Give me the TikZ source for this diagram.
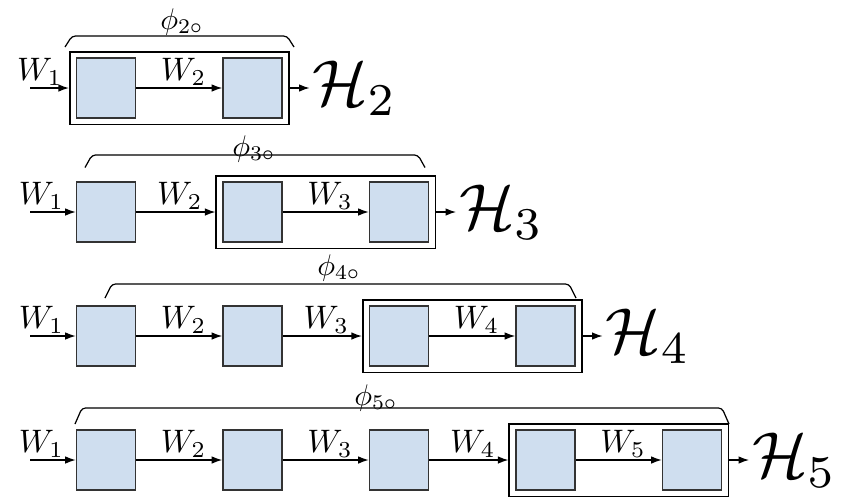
\documentclass[tikz,border=0pt]{standalone}
\usepackage{tikz}
\usetikzlibrary{arrows.meta,positioning,fit}

\definecolor{unitblue}{RGB}{207,222,239}

\tikzset{
  unit/.style={draw=black!80, line width=0.9pt, fill=unitblue,
    minimum width=1.18cm, minimum height=1.2cm, inner sep=0pt},
  frame/.style={draw, line width=0.9pt, inner xsep=0.12cm, inner ysep=0.11cm},
  flow/.style={-{Latex[length=2.1mm,width=1.5mm]}, line width=0.7pt},
  wlabel/.style={scale=1.85, inner sep=0.5pt},
  hlabel/.style={scale=3.7, inner sep=0.3pt},
  philabel/.style={scale=1.7, inner sep=0pt},
  cover/.style={line width=0.7pt, rounded corners=2pt},
}

\begin{document}
\begin{tikzpicture}
  \useasboundingbox (0,0) rectangle (16.92,-10.06);

  % One chain per depth, last two units framed
  \foreach \r in {1,...,4} {
    \pgfmathsetmacro\y{-1.76-2.48*(\r-1)}
    \pgfmathtruncatemacro\n{\r+1}
    \coordinate (in\r) at (0.6,\y);

    % units
    \foreach \c in {1,...,\n} {
      \node[unit] (u\r-\c) at ({2.12+2.93*(\c-1)},\y) {};
    }

    % frame
    \node[frame, fit=(u\r-\r)(u\r-\n)] (f\r) {};

    % weights between units
    \foreach \c in {1,...,\n} {
      \pgfmathtruncatemacro\p{\c-1}
      \ifnum\c=1 \def\src{in\r}\def\lpos{0.25}\else \def\src{u\r-\p}\def\lpos{0.55}\fi
      \ifnum\c=\r \def\dst{f\r}\else \def\dst{u\r-\c}\fi
      \draw[flow] (\src) -- node[wlabel, above, pos=\lpos] (w\r-\c) {$W_{\c}$} (\dst);
    }

    % output
    \node[hlabel, right=0.4cm of f\r] (h\r) {$\mathcal{H}_{\n}$};
    \draw[flow] (f\r) -- (h\r);
  }

  % Covers over the composed part
  \foreach \r/\a/\b/\yb/\d/\lx/\ly in {
      2/1.30/5.88/-0.72/0.22/3.64/-0.44,
      3/1.70/8.50/-3.10/0.25/5.08/-2.98,
      4/2.10/11.52/-5.68/0.28/6.78/-5.36,
      5/1.50/14.58/-8.16/0.32/7.52/-7.96} {
    \draw[cover] (\a,{\yb-\d}) -- ({\a+0.14},\yb) -- ({\b-0.14},\yb) -- (\b,{\yb-\d});
    \node[philabel] (p\r) at (\lx,\ly) {$\phi_{\r\circ}$};
  }
\end{tikzpicture}
\end{document}
